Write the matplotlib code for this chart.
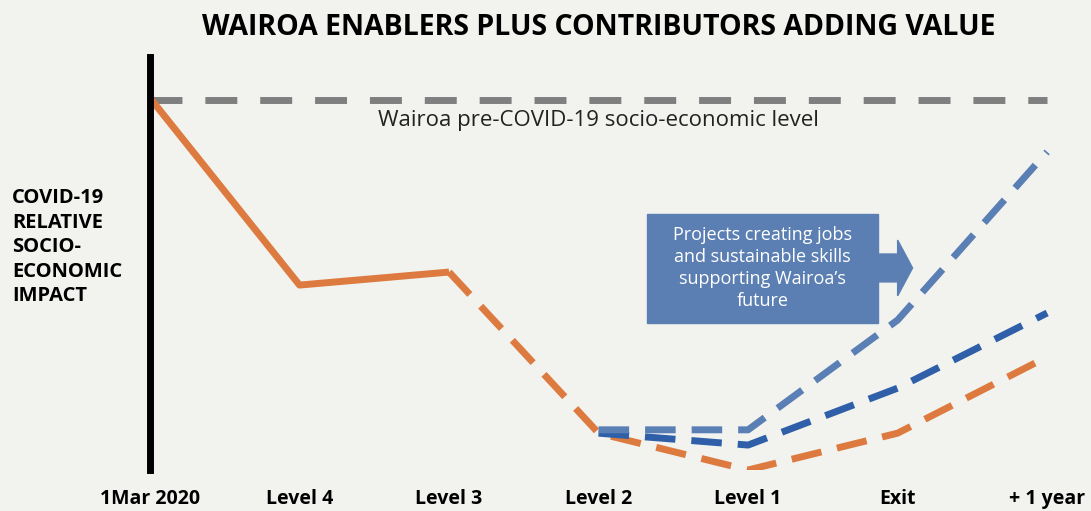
import matplotlib.pyplot as plt
from matplotlib.patches import Rectangle, FancyArrow

plt.rcParams['font.family'] = ['Open Sans', 'DejaVu Sans']

stages = ['1Mar 2020', 'Level 4', 'Level 3', 'Level 2', 'Level 1', 'Exit', '+ 1 year']
pre_covid = 99.5
orange = [100, 49.7, 53.2, 9.9, 0.0, 9.9, 30.4]
dark_blue = [9.9, 6.7, 22.0, 42.2]        # Level 2 .. + 1 year
light_blue = [10.8, 10.8, 40.3, 85.5]     # Level 2 .. + 1 year

bg = '#f2f3ef'
fig = plt.figure(figsize=(10.91, 5.11), dpi=100, facecolor=bg)
ax = fig.add_axes([150 / 1091, 41 / 511, 942 / 1091, 413 / 511], facecolor=bg)
ax.set_xlim(0, 6.3)
ax.set_ylim(0, 111)

x = list(range(len(stages)))
lw = 5
ax.plot([0, 6.0], [pre_covid, pre_covid], color='#7f7f7f', lw=lw, dashes=(4.6, 3.3))
ax.plot(x[:3], orange[:3], color='#dd7a3f', lw=lw, solid_capstyle='butt')
ax.plot(x[2:], orange[2:], color='#dd7a3f', lw=lw, dashes=(4.4, 2.3))
ax.plot(x[3:], dark_blue, color='#2e5fa8', lw=lw, dashes=(4.4, 2.3))
ax.plot(x[3:], light_blue, color='#5a7fb5', lw=lw, dashes=(4.4, 2.3))

ax.text(3, 94.0, 'Wairoa pre-COVID-19 socio-economic level', ha='center', va='center',
        fontsize=16, color='#222222')

# call-out box with arrow
ax.add_patch(Rectangle((3.325, 39.5), 1.545, 29.3, color='#5b7fb3', zorder=3))
ax.add_patch(FancyArrow(4.86, 54.3, 0.24, 0, width=7.5, head_width=15, head_length=0.1,
                        length_includes_head=True, color='#5b7fb3', zorder=3))
ax.text(4.095, 54.3, 'Projects creating jobs\nand sustainable skills\nsupporting Wairoa\u2019s\nfuture',
        ha='center', va='center', fontsize=13, color='white', linespacing=1.3, zorder=4)

for s in ['top', 'right', 'bottom']:
    ax.spines[s].set_visible(False)
ax.spines['left'].set_linewidth(5)
ax.spines['left'].set_color('black')
ax.set_yticks([])
ax.set_xticks(x)
ax.set_xticklabels(stages, fontsize=14, fontweight='bold')
ax.tick_params(axis='x', length=0, pad=14)

fig.text(0.549, 0.947, 'WAIROA ENABLERS PLUS CONTRIBUTORS ADDING VALUE', ha='center', va='center',
         fontsize=20.5, fontweight='bold')
fig.text(12 / 1091, 1 - 247 / 511, 'COVID-19\nRELATIVE\nSOCIO-\nECONOMIC\nIMPACT', ha='left', va='center',
         fontsize=14.5, fontweight='bold', linespacing=1.3)

fig.savefig('out.png', dpi=100, facecolor=bg)
